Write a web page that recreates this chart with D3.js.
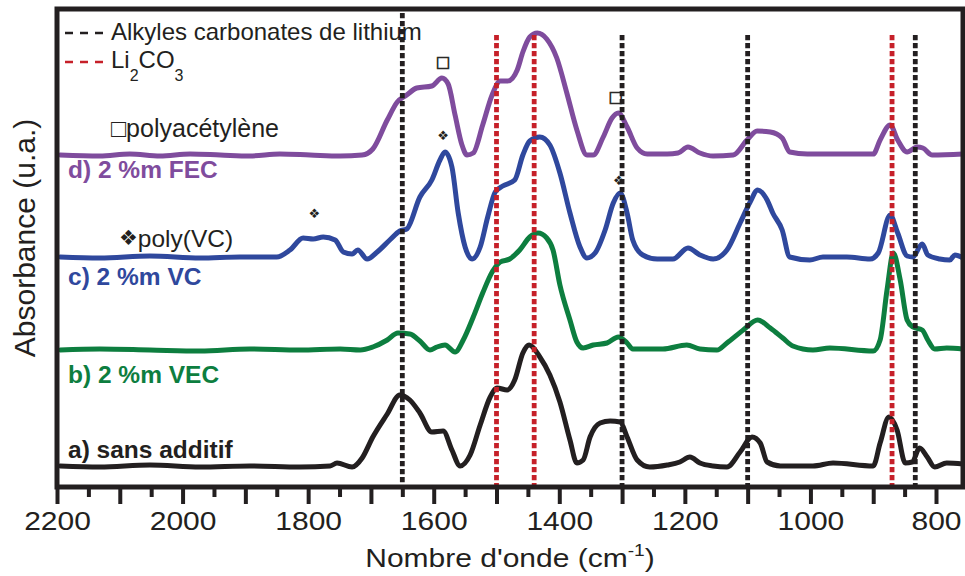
<!DOCTYPE html>
<html><head><meta charset="utf-8">
<script src="https://cdn.jsdelivr.net/npm/d3@7"></script>
<style>
body{margin:0;background:#fff;}
svg{display:block;font-family:"Liberation Sans",Arial,Helvetica,sans-serif;}
</style>
</head><body>
<svg id="chart" width="965" height="576"></svg>
<script>
// ---------- data (wavenumber cm-1, absorbance u.a. with vertical offsets) ----------
const wnD  = [2195,2132,2084,2036,1988,1940,1893,1845,1797,1749,1714,1697,1674,1658,1643,1627,1603,1587,1577,1566,1555,1547,1537,1522,1507,1494,1482,1467,1458,1447,1435,1420,1404,1388,1372,1356,1346,1330,1316,1306,1292,1276,1260,1228,1211,1195,1176,1155,1123,1101,1085,1064,1045,1033,1005,964,900,889,873,861,846,830,821,806,757];
const absD = [3.32,3.31,3.33,3.31,3.33,3.32,3.31,3.33,3.32,3.31,3.32,3.38,3.67,3.85,3.92,3.99,4.01,4.09,4.03,3.72,3.42,3.32,3.34,3.62,3.92,4.06,4.06,4.17,4.35,4.50,4.54,4.48,4.29,3.94,3.57,3.32,3.32,3.50,3.69,3.74,3.60,3.39,3.33,3.33,3.34,3.40,3.34,3.31,3.32,3.47,3.56,3.55,3.49,3.35,3.33,3.33,3.33,3.47,3.62,3.47,3.35,3.40,3.39,3.32,3.33];

const wnC  = [2195,2132,2052,1972,1909,1850,1829,1808,1792,1776,1757,1744,1730,1721,1706,1690,1670,1654,1643,1622,1603,1590,1582,1571,1561,1550,1539,1526,1514,1502,1490,1471,1458,1447,1431,1415,1399,1383,1367,1356,1343,1327,1314,1303,1292,1283,1267,1244,1219,1195,1176,1155,1133,1112,1096,1084,1069,1060,1045,1033,1001,980,942,905,892,873,861,846,837,822,813,794,778,770,757];
const absC = [2.30,2.29,2.31,2.29,2.30,2.30,2.37,2.49,2.48,2.50,2.47,2.35,2.33,2.37,2.28,2.35,2.47,2.56,2.58,2.90,3.07,3.27,3.35,3.20,2.74,2.40,2.28,2.40,2.70,2.95,3.01,3.07,3.32,3.46,3.50,3.42,3.14,2.74,2.40,2.29,2.34,2.57,2.84,2.94,2.74,2.47,2.32,2.28,2.28,2.39,2.32,2.28,2.37,2.64,2.85,2.97,2.87,2.74,2.57,2.30,2.27,2.30,2.30,2.28,2.34,2.72,2.54,2.31,2.30,2.43,2.32,2.28,2.27,2.32,2.29];

const wnB  = [2195,2132,2052,1972,1893,1813,1749,1717,1697,1674,1657,1638,1622,1606,1595,1582,1566,1553,1537,1522,1506,1494,1479,1463,1447,1434,1420,1410,1399,1383,1372,1362,1346,1324,1306,1292,1283,1235,1197,1176,1149,1133,1107,1084,1064,1044,1028,996,969,900,889,878,868,857,846,837,822,813,802,783,757];
const absB = [1.37,1.38,1.37,1.36,1.38,1.37,1.38,1.37,1.40,1.47,1.54,1.53,1.46,1.37,1.40,1.42,1.35,1.47,1.70,1.94,2.16,2.25,2.28,2.37,2.50,2.54,2.49,2.37,2.02,1.67,1.45,1.39,1.42,1.44,1.50,1.44,1.38,1.38,1.42,1.38,1.37,1.44,1.57,1.67,1.59,1.49,1.41,1.37,1.39,1.36,1.47,1.97,2.34,2.07,1.67,1.60,1.57,1.47,1.38,1.39,1.38];

const wnA  = [2195,2132,2052,1972,1893,1813,1765,1754,1730,1714,1697,1674,1654,1638,1622,1603,1585,1571,1558,1542,1526,1510,1499,1483,1471,1458,1448,1431,1415,1399,1383,1372,1362,1351,1335,1319,1303,1292,1276,1256,1228,1208,1192,1176,1155,1133,1112,1093,1080,1069,1048,996,964,900,889,875,862,849,838,826,814,802,783,757];
const absA = [0.21,0.20,0.22,0.20,0.21,0.20,0.21,0.24,0.20,0.29,0.50,0.73,0.92,0.87,0.74,0.55,0.56,0.37,0.21,0.32,0.62,0.90,0.99,0.97,1.07,1.34,1.42,1.30,1.12,0.85,0.47,0.24,0.27,0.50,0.64,0.66,0.65,0.50,0.27,0.20,0.22,0.25,0.30,0.24,0.21,0.20,0.35,0.50,0.44,0.25,0.21,0.21,0.24,0.21,0.44,0.70,0.57,0.24,0.25,0.39,0.30,0.20,0.24,0.23];

const seriesNames  = ["a) sans additif","b) 2 %m VEC","c) 2 %m VC","d) 2 %m FEC"];
const alkylWn   = [1650,1300,1100,833];   // Alkyles carbonates de lithium
const li2co3Wn  = [1500,1440,870];        // Li2CO3
const xLabelTicks = [2200,2000,1800,1600,1400,1200,1000,800];
const xMajorTicks = [2200,2100,2000,1900,1800,1700,1600,1500,1400,1300,1200,1100,1000,900,800];
const xMinorTicks = [2150,2050,1950,1850,1750,1650,1550,1450,1350,1250,1150,1050,950,850];
const polyVCMarks = [1790,1585,1305];     // poly(VC) markers (wn)
const polyVCLevel = [2.74,3.52,3.07];
const polyAcMarks = [1585,1310];          // polyacétylène markers (wn)
const polyAcLevel = [4.25,3.90];

// ---------- layout ----------
const L=57, R=963, T=9, B=487;
const ink="#231f20";
const colors={a:"#231f20",b:"#0d7e3f",c:"#2f489d",d:"#7f4c9d"};
const red="#c62029";

const svg=d3.select("#chart");
const x=d3.scaleLinear().domain([2200,757]).range([L,R]);
const y=d3.scaleLinear().domain([0,4.78]).range([B,T]);

const series=[
  {k:"a",wn:wnA,v:absA},
  {k:"b",wn:wnB,v:absB},
  {k:"c",wn:wnC,v:absC},
  {k:"d",wn:wnD,v:absD}
];

const line=d3.line().x(d=>x(d[0])).y(d=>y(d[1])).curve(d3.curveMonotoneX);

series.forEach(s=>{
  svg.append("path")
    .datum(s.wn.map((w,i)=>[w,s.v[i]]))
    .attr("d",line)
    .attr("fill","none")
    .attr("stroke",colors[s.k])
    .attr("stroke-width",5)
    .attr("stroke-linejoin","round")
    .attr("stroke-linecap","round");
});

// reference dashed lines
alkylWn.forEach(w=>{
  svg.append("line")
    .attr("x1",x(w)).attr("x2",x(w))
    .attr("y1",w===1650?13:35).attr("y2",B)
    .attr("stroke",ink).attr("stroke-width",4.8)
    .attr("stroke-dasharray","5.3,2.7");
});
li2co3Wn.forEach(w=>{
  svg.append("line")
    .attr("x1",x(w)).attr("x2",x(w))
    .attr("y1",35).attr("y2",B)
    .attr("stroke",red).attr("stroke-width",4.8)
    .attr("stroke-dasharray","5.3,2.7");
});

// frame
svg.append("rect").attr("x",L).attr("y",T).attr("width",R-L).attr("height",B-T)
  .attr("fill","none").attr("stroke",ink).attr("stroke-width",5);

// axes
const gMinor=svg.append("g").attr("transform",`translate(0,${B})`)
  .call(d3.axisBottom(x).tickValues(xMinorTicks).tickSize(10).tickFormat(""));
const gMajor=svg.append("g").attr("transform",`translate(0,${B})`)
  .call(d3.axisBottom(x).tickValues(xMajorTicks).tickSize(17)
    .tickFormat(d=>xLabelTicks.includes(d)?d:""));
[gMinor,gMajor].forEach(g=>{
  g.select(".domain").remove();
  g.selectAll(".tick line").attr("stroke",ink).attr("stroke-width",4);
});
gMajor.selectAll(".tick text")
  .attr("y",0).attr("dy",0)
  .attr("transform","translate(0,43) scale(1.2,1)")
  .attr("font-size",25).attr("fill",ink)
  .attr("font-family","Liberation Sans, Arial, sans-serif");

// axis titles
const xt=svg.append("text")
  .attr("transform",`translate(${(L+R)/2},567) scale(1.2,1)`)
  .attr("text-anchor","middle").attr("font-size",25).attr("fill",ink);
xt.append("tspan").text("Nombre d'onde (cm");
xt.append("tspan").attr("font-size",16).attr("dy",-11).text("-1");
xt.append("tspan").attr("dy",11).text(")");

svg.append("text")
  .attr("transform",`translate(35,${(T+B)/2-10}) rotate(-90)`)
  .attr("text-anchor","middle").attr("font-size",30).attr("fill",ink)
  .text("Absorbance (u.a.)");

// legend
svg.append("line").attr("x1",65).attr("x2",104).attr("y1",33).attr("y2",33)
  .attr("stroke",ink).attr("stroke-width",2.5).attr("stroke-dasharray","8,7");
svg.append("text").attr("x",111).attr("y",40).attr("font-size",24).attr("fill",ink)
  .text("Alkyles carbonates de lithium");
svg.append("line").attr("x1",65).attr("x2",104).attr("y1",62).attr("y2",62)
  .attr("stroke",red).attr("stroke-width",2.5).attr("stroke-dasharray","8,7");
const li=svg.append("text").attr("x",111).attr("y",68).attr("font-size",24).attr("fill",ink);
li.append("tspan").text("Li");
li.append("tspan").attr("font-size",16).attr("dy",13).text("2");
li.append("tspan").attr("dy",-13).text("CO");
li.append("tspan").attr("font-size",16).attr("dy",13).text("3");

// annotation legends
const pa=svg.append("text").attr("x",111).attr("y",137).attr("font-size",25).attr("fill",ink);
pa.append("tspan").text("\u25A1");
pa.append("tspan").text("polyacétylène");
const pv=svg.append("text").attr("x",119).attr("y",247).attr("fill",ink);
pv.append("tspan").attr("font-size",21).attr("font-family","DejaVu Sans").attr("dy",-2).text("\u2756");
pv.append("tspan").attr("font-size",24.5).attr("dy",2).text("poly(VC)");

// markers
polyVCMarks.forEach((w,i)=>{
  svg.append("text").attr("x",x(w)).attr("y",y(polyVCLevel[i]))
    .attr("text-anchor","middle").attr("dominant-baseline","central")
    .attr("font-size",13).attr("font-family","DejaVu Sans").attr("fill",ink).text("\u2756");
});
polyAcMarks.forEach((w,i)=>{
  svg.append("text").attr("x",x(w)).attr("y",y(polyAcLevel[i]))
    .attr("text-anchor","middle").attr("dominant-baseline","central")
    .attr("font-size",15).attr("font-family","DejaVu Sans")
    .attr("fill",ink).attr("stroke",ink).attr("stroke-width",0.6).text("\u25A1");
});

// series labels
const labelPos=[[68,458,"a"],[68,383,"b"],[68,285,"c"],[68,178,"d"]];
labelPos.forEach((p,i)=>{
  svg.append("text").attr("x",p[0]).attr("y",p[1])
    .attr("font-size",24.5).attr("font-weight","bold").attr("fill",colors[p[2]])
    .text(seriesNames[i]);
});
</script>
</body></html>
